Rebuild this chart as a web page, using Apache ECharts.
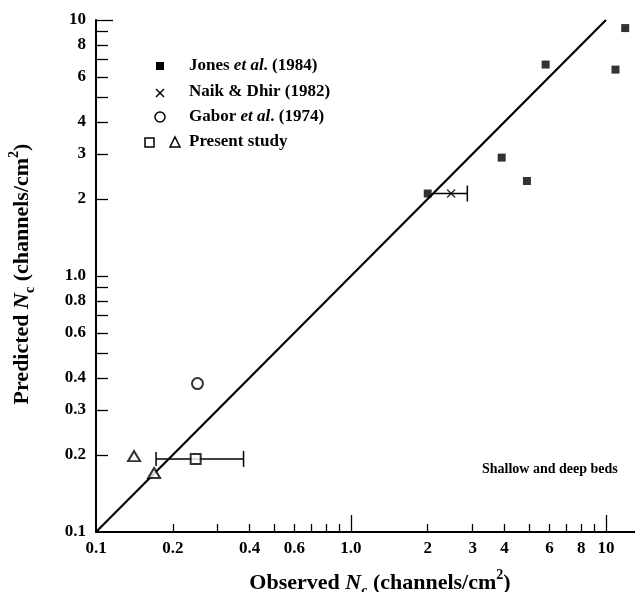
<!DOCTYPE html>
<html>
<head>
<meta charset="utf-8">
<script src="https://cdn.jsdelivr.net/npm/echarts@6/dist/echarts.min.js"></script>
<style>html,body{margin:0;padding:0;background:#fff}#c{width:635px;height:592px}</style>
</head>
<body>
<div id="c"></div>
<script>
// ---- data ----
const jonesX = [2.0, 3.9, 4.9, 5.8, 10.9, 11.9];
const jonesY = [2.1, 2.9, 2.35, 6.7, 6.4, 9.3];
const naikX = [2.47];
const naikY = [2.1];
const naikErr = [[2.1, 2.1, 2.86]];          // [y, xLow, xHigh]
const gaborX = [0.25];
const gaborY = [0.38];
const presentSqX = [0.246];
const presentSqY = [0.193];
const presentSqErr = [[0.193, 0.172, 0.379]]; // [y, xLow, xHigh]
const presentTriX = [0.141, 0.169];
const presentTriY = [0.198, 0.170];
const fitLine = [0.1, 10];
const xTickVals = [0.2,0.3,0.4,0.5,0.6,0.7,0.8,0.9,2,3,4,5,6,7,8,9];
const xLongTicks = [1, 10];
const xLabelVals = [0.1,0.2,0.4,0.6,1,2,3,4,6,8,10];
const yTickVals = [0.2,0.3,0.4,0.5,0.6,0.7,0.8,0.9,1,2,3,4,5,6,7,8,9];
const yLongTicks = [10];
const yLabelVals = [0.1,0.2,0.3,0.4,0.6,0.8,1,2,3,4,6,8,10];

const FONT = 'Liberation Serif';
function fmt(v){
  if (Math.abs(v-1) < 1e-6) return '1.0';
  if (v < 1) return (Math.round(v*10)/10).toFixed(1);
  return String(Math.round(v));
}
const zip = (a,b) => a.map((v,i)=>[v,b[i]]);

const chart = echarts.init(document.getElementById('c'));
const baseX = {
  type:'log', logBase:10, min:0.1, max:13, gridIndex:0,
  splitLine:{show:false}, minorTick:{show:false}, minorSplitLine:{show:false}
};
const baseY = {
  type:'log', logBase:10, min:0.1, max:10, gridIndex:0,
  splitLine:{show:false}, minorTick:{show:false}, minorSplitLine:{show:false}
};
const labelStyle = {color:'#000', fontFamily:FONT, fontWeight:'bold', fontSize:17, formatter: fmt};
const titleRich = {
  t:{fontFamily:FONT, fontWeight:'bold', fontSize:22, fill:'#000', lineHeight:30, verticalAlign:'middle'},
  i:{fontFamily:FONT, fontWeight:'bold', fontStyle:'italic', fontSize:22, fill:'#000', lineHeight:30, verticalAlign:'middle'},
  s:{fontFamily:FONT, fontWeight:'bold', fontSize:14, fill:'#000', lineHeight:30, verticalAlign:'bottom'},
  p:{fontFamily:FONT, fontWeight:'bold', fontSize:14, fill:'#000', lineHeight:30, verticalAlign:'top'}
};
const legRich = {i:{fontStyle:'italic', fontWeight:'bold', fontSize:17, fontFamily:FONT, fill:'#000'}};

chart.setOption({
  animation:false,
  backgroundColor:'#fff',
  grid:{left:96, right:0, top:20, bottom:60},
  xAxis:[
    Object.assign({}, baseX, {
      position:'bottom',
      axisLine:{show:true, onZero:false, lineStyle:{color:'#000', width:2}},
      axisTick:{show:true, inside:true, length:8, customValues:xTickVals, lineStyle:{color:'#000', width:1.3}},
      axisLabel:Object.assign({customValues:xLabelVals, margin:8}, labelStyle)
    }),
    Object.assign({}, baseX, {
      position:'bottom',
      axisLine:{show:false},
      axisTick:{show:true, inside:true, length:17, customValues:xLongTicks, lineStyle:{color:'#000', width:1.3}},
      axisLabel:{show:false}
    })
  ],
  yAxis:[
    Object.assign({}, baseY, {
      position:'left',
      axisLine:{show:true, onZero:false, lineStyle:{color:'#000', width:2}},
      axisTick:{show:true, inside:true, length:12, customValues:yTickVals, lineStyle:{color:'#000', width:1.3}},
      axisLabel:Object.assign({customValues:yLabelVals, margin:10}, labelStyle)
    }),
    Object.assign({}, baseY, {
      position:'left',
      axisLine:{show:false},
      axisTick:{show:true, inside:true, length:17, customValues:yLongTicks, lineStyle:{color:'#000', width:1.3}},
      axisLabel:{show:false}
    })
  ],
  series:[
    {type:'line', data:[[fitLine[0],fitLine[0]],[fitLine[1],fitLine[1]]], symbol:'none',
     lineStyle:{color:'#000', width:2.2}, z:2},
    {type:'custom', data: naikErr.concat(presentSqErr), encode:{x:[1,2], y:0}, z:3,
     renderItem:function(params, api){
       const y = api.value(0), lo = api.value(1), hi = api.value(2);
       const p1 = api.coord([lo, y]), p2 = api.coord([hi, y]);
       const st = {stroke:'#000', lineWidth:1.5};
       const ch = [
         {type:'line', shape:{x1:p1[0], y1:p1[1], x2:p2[0], y2:p2[1]}, style:st},
         {type:'line', shape:{x1:p2[0], y1:p2[1]-8, x2:p2[0], y2:p2[1]+8}, style:st}
       ];
       if (lo !== y) {
         ch.push({type:'line', shape:{x1:p1[0], y1:p1[1]-7, x2:p1[0], y2:p1[1]+7}, style:st});
       }
       return {type:'group', children:ch};
     }},
    {type:'scatter', data:zip(jonesX, jonesY), symbol:'rect', symbolSize:8,
     itemStyle:{color:'#000'}, z:5},
    {type:'scatter', data:zip(naikX, naikY), symbol:'path://M0,0L10,10M10,0L0,10', symbolSize:8,
     itemStyle:{color:'none', borderColor:'#000', borderWidth:1.5}, z:5},
    {type:'scatter', data:zip(gaborX, gaborY), symbol:'emptyCircle', symbolSize:11,
     itemStyle:{color:'#000', borderWidth:1.5}, z:5},
    {type:'scatter', data:zip(presentSqX, presentSqY), symbol:'emptyRect', symbolSize:10,
     itemStyle:{color:'#000', borderWidth:1.5}, z:5},
    {type:'scatter', data:zip(presentTriX, presentTriY), symbol:'emptyTriangle', symbolSize:[12,10],
     itemStyle:{color:'#000', borderWidth:1.5}, z:5}
  ],
  graphic:[
    // legend
    {type:'rect', shape:{x:156, y:62, width:8, height:8}, style:{fill:'#000'}},
    {type:'line', shape:{x1:156, y1:89, x2:164, y2:97}, style:{stroke:'#000', lineWidth:1.5}},
    {type:'line', shape:{x1:164, y1:89, x2:156, y2:97}, style:{stroke:'#000', lineWidth:1.5}},
    {type:'circle', shape:{cx:160, cy:117, r:5}, style:{fill:'#fff', stroke:'#000', lineWidth:1.5}},
    {type:'rect', shape:{x:145, y:138, width:9, height:9}, style:{fill:'#fff', stroke:'#000', lineWidth:1.5}},
    {type:'polygon', shape:{points:[[175,137],[180,147],[170,147]]}, style:{fill:'#fff', stroke:'#000', lineWidth:1.5}},
    {type:'text', x:189, y:66, style:{text:'Jones {i|et al}. (1984)', fill:'#000', font:'bold 17px '+FONT, verticalAlign:'middle', rich:legRich}},
    {type:'text', x:189, y:92, style:{text:'Naik & Dhir (1982)', fill:'#000', font:'bold 17px '+FONT, verticalAlign:'middle'}},
    {type:'text', x:189, y:117, style:{text:'Gabor {i|et al}. (1974)', fill:'#000', font:'bold 17px '+FONT, verticalAlign:'middle', rich:legRich}},
    {type:'text', x:189, y:142, style:{text:'Present study', fill:'#000', font:'bold 17px '+FONT, verticalAlign:'middle'}},
    {type:'text', x:482, y:469, style:{text:'Shallow and deep beds', fill:'#000', font:'bold 14px '+FONT, verticalAlign:'middle'}},
    // axis titles
    {type:'text', x:380, y:583, style:{
      text:'{t|Observed }{i|N}{s|c}{t| (channels/cm}{p|2}{t|)}', align:'center', verticalAlign:'middle', rich:titleRich}},
    {type:'text', x:22, y:274, rotation:Math.PI/2, style:{
      text:'{t|Predicted }{i|N}{s|c}{t| (channels/cm}{p|2}{t|)}', align:'center', verticalAlign:'middle', rich:titleRich}}
  ]
});
</script>
</body>
</html>
